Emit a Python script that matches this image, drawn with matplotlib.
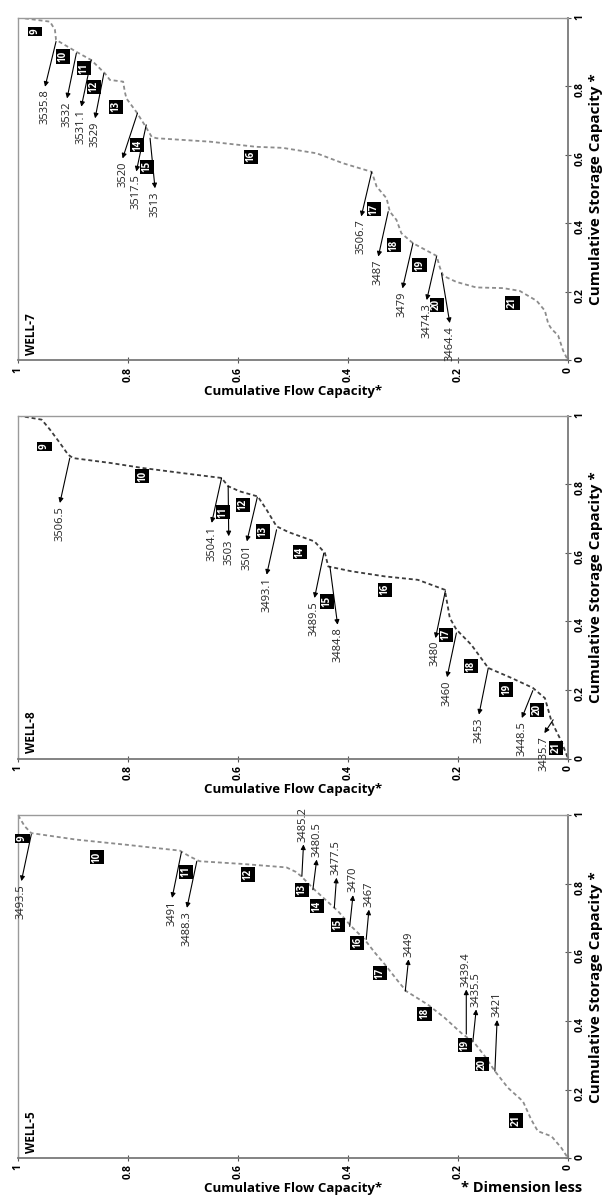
import matplotlib
matplotlib.use("Agg")
import matplotlib.pyplot as plt

plt.rcParams["font.family"] = ["Open Sans", "DejaVu Sans"]

# ========= Data (flow capacity, storage capacity) =========
well7_flow = [1.0, 0.942, 0.933, 0.931, 0.894, 0.867, 0.842, 0.833, 0.809, 0.806, 0.803, 0.785,
              0.770, 0.757, 0.748, 0.651, 0.567, 0.519, 0.457, 0.409, 0.357, 0.348, 0.330, 0.324,
              0.312, 0.303, 0.282, 0.239, 0.233, 0.227, 0.203, 0.167, 0.118, 0.088, 0.057, 0.042,
              0.036, 0.030, 0.018, 0.009, 0.0]
well7_storage = [1.0, 0.988, 0.964, 0.935, 0.900, 0.876, 0.837, 0.818, 0.813, 0.784, 0.764, 0.725,
                 0.687, 0.652, 0.648, 0.638, 0.623, 0.620, 0.604, 0.575, 0.550, 0.507, 0.473, 0.434,
                 0.410, 0.371, 0.342, 0.305, 0.271, 0.247, 0.229, 0.213, 0.211, 0.203, 0.174, 0.145,
                 0.107, 0.092, 0.073, 0.029, 0.0]
well7_zones = [9, 10, 11, 12, 13, 14, 15, 16, 17, 18, 19, 20, 21]
well7_zone_flow = [0.969, 0.918, 0.880, 0.862, 0.822, 0.783, 0.765, 0.577, 0.353, 0.317, 0.270, 0.239, 0.101]
well7_zone_storage = [0.959, 0.886, 0.852, 0.798, 0.740, 0.628, 0.565, 0.594, 0.441, 0.336, 0.278, 0.162, 0.168]
well7_depths = ["3535.8", "3532", "3531.1", "3529", "3520", "3517.5", "3513",
                "3506.7", "3487", "3479", "3474.3", "3464.4"]
well7_tail_flow = [0.931, 0.894, 0.867, 0.844, 0.783, 0.767, 0.760, 0.357, 0.327, 0.282, 0.239, 0.230]
well7_tail_storage = [0.930, 0.896, 0.876, 0.837, 0.721, 0.687, 0.648, 0.550, 0.434, 0.342, 0.303, 0.254]
well7_head_flow = [0.951, 0.911, 0.885, 0.860, 0.810, 0.785, 0.751, 0.376, 0.345, 0.301, 0.257, 0.215]
well7_head_storage = [0.798, 0.764, 0.740, 0.706, 0.589, 0.551, 0.502, 0.420, 0.303, 0.210, 0.176, 0.109]

well8_flow = [1.0, 0.957, 0.942, 0.924, 0.909, 0.900, 0.833, 0.773, 0.700, 0.630, 0.618, 0.597,
              0.564, 0.548, 0.530, 0.508, 0.461, 0.442, 0.436, 0.394, 0.333, 0.273, 0.224, 0.215,
              0.203, 0.176, 0.145, 0.103, 0.064, 0.042, 0.030, 0.012, 0.0]
well8_storage = [1.0, 0.988, 0.959, 0.920, 0.886, 0.876, 0.862, 0.847, 0.832, 0.818, 0.794, 0.779,
                 0.764, 0.725, 0.677, 0.660, 0.633, 0.599, 0.560, 0.546, 0.531, 0.521, 0.492, 0.410,
                 0.376, 0.332, 0.264, 0.235, 0.206, 0.176, 0.108, 0.050, 0.0]
well8_zones = [9, 10, 11, 12, 13, 14, 15, 16, 17, 18, 19, 20, 21]
well8_zone_flow = [0.952, 0.774, 0.627, 0.591, 0.555, 0.488, 0.439, 0.333, 0.222, 0.176, 0.112, 0.057, 0.022]
well8_zone_storage = [0.910, 0.823, 0.719, 0.740, 0.662, 0.602, 0.458, 0.492, 0.361, 0.269, 0.201, 0.142, 0.031]
well8_depths = ["3506.5", "3504.1", "3503", "3501", "3493.1", "3489.5", "3484.8",
                "3480", "3460", "3453", "3448.5", "3435.7"]
well8_tail_flow = [0.906, 0.630, 0.618, 0.565, 0.530, 0.444, 0.433, 0.223, 0.203, 0.145, 0.064, 0.027]
well8_tail_storage = [0.876, 0.818, 0.794, 0.762, 0.667, 0.599, 0.560, 0.489, 0.366, 0.264, 0.198, 0.113]
well8_head_flow = [0.924, 0.648, 0.617, 0.584, 0.548, 0.461, 0.419, 0.241, 0.220, 0.162, 0.084, 0.043]
well8_head_storage = [0.745, 0.687, 0.648, 0.633, 0.536, 0.468, 0.390, 0.351, 0.237, 0.128, 0.118, 0.074]

well5_flow = [1.0, 0.988, 0.976, 0.894, 0.803, 0.706, 0.688, 0.670, 0.591, 0.512, 0.495, 0.485,
              0.461, 0.442, 0.418, 0.394, 0.370, 0.351, 0.333, 0.309, 0.294, 0.255, 0.224, 0.194,
              0.170, 0.151, 0.133, 0.109, 0.082, 0.067, 0.055, 0.030, 0.012, 0.0]
well5_storage = [1.0, 0.968, 0.948, 0.929, 0.914, 0.897, 0.880, 0.866, 0.858, 0.848, 0.835, 0.822,
                 0.783, 0.755, 0.720, 0.676, 0.638, 0.599, 0.565, 0.516, 0.487, 0.448, 0.409, 0.365,
                 0.336, 0.297, 0.254, 0.205, 0.166, 0.113, 0.079, 0.064, 0.030, 0.0]
well5_zones = [9, 10, 11, 12, 13, 14, 15, 16, 17, 18, 19, 20, 21]
well5_zone_flow = [0.992, 0.856, 0.695, 0.582, 0.484, 0.457, 0.419, 0.383, 0.342, 0.261, 0.188, 0.157, 0.094]
well5_zone_storage = [0.932, 0.878, 0.835, 0.827, 0.783, 0.735, 0.681, 0.628, 0.540, 0.421, 0.330, 0.274, 0.110]
well5_depths = ["3493.5", "3491", "3488.3", "3485.2", "3480.5", "3477.5", "3470",
                "3467", "3449", "3439.4", "3435.5", "3421"]
well5_tail_flow = [0.976, 0.703, 0.675, 0.484, 0.464, 0.425, 0.397, 0.367, 0.296, 0.185, 0.173, 0.133]
well5_tail_storage = [0.944, 0.893, 0.866, 0.822, 0.783, 0.730, 0.676, 0.638, 0.487, 0.362, 0.341, 0.254]
well5_head_flow = [0.994, 0.720, 0.693, 0.481, 0.457, 0.421, 0.391, 0.362, 0.290, 0.185, 0.167, 0.129]
well5_head_storage = [0.808, 0.759, 0.730, 0.915, 0.871, 0.818, 0.767, 0.725, 0.580, 0.492, 0.434, 0.403]

ticks = [0, 0.2, 0.4, 0.6, 0.8, 1]
tick_labels = ["0", "0.2", "0.4", "0.6", "0.8", "1"]


def draw_panel(ax, name, flow, storage, zones, z_flow, z_storage,
               depths, t_flow, t_storage, h_flow, h_storage, line_color):
    ax.plot(flow, storage, color=line_color, lw=1.3, linestyle=(0, (2.2, 1.6)))

    for z, zf, zs in zip(zones, z_flow, z_storage):
        ax.text(zf, zs, str(z), rotation=90, color="white", fontsize=7,
                fontweight="bold", ha="center", va="center",
                bbox=dict(boxstyle="square,pad=0.16", fc="black", ec="none"))

    for d, tf, ts, hf, hs in zip(depths, t_flow, t_storage, h_flow, h_storage):
        ax.annotate("", xy=(hf, hs), xytext=(tf, ts),
                    arrowprops=dict(arrowstyle="-|>", color="black", lw=0.8,
                                    mutation_scale=7, shrinkA=0, shrinkB=0))
        down = hs < ts
        ax.annotate(d, xy=(hf, hs), xytext=(0, -2 if down else 2),
                    textcoords="offset points", rotation=90, fontsize=8,
                    color="#222222", ha="center", va="top" if down else "bottom")

    ax.text(0.013, 0.015, name, transform=ax.transAxes, rotation=90,
            fontsize=8.5, fontweight="bold", ha="left", va="bottom")

    ax.set_xlim(1, 0)
    ax.set_ylim(0, 1)
    ax.set_xticks(ticks, labels=tick_labels, rotation=90, fontsize=7.5, fontweight="bold")
    ax.yaxis.tick_right()
    ax.yaxis.set_label_position("right")
    ax.set_yticks(ticks, labels=tick_labels, rotation=90, fontsize=7.5, fontweight="bold")
    ax.tick_params(direction="inout", length=5, width=0.8, color="#555555", pad=2)
    ax.set_xlabel("Cumulative Flow Capacity*", fontsize=9.5, fontweight="bold", labelpad=2)
    ax.set_ylabel("Cumulative Storage Capacity *", fontsize=11, fontweight="bold",
                  rotation=90, labelpad=3)
    for side in ("left", "top"):
        ax.spines[side].set_color("#9a9a9a")
        ax.spines[side].set_linewidth(1.0)
    for side in ("right", "bottom"):
        ax.spines[side].set_color("#7a7a7a")
        ax.spines[side].set_linewidth(1.3)


fig = plt.figure(figsize=(6.03, 12), dpi=100)
left, width, height = 0.030, 0.912, 0.2858

ax7 = fig.add_axes([left, 0.6996, width, height])
draw_panel(ax7, "WELL-7", well7_flow, well7_storage, well7_zones, well7_zone_flow,
           well7_zone_storage, well7_depths, well7_tail_flow, well7_tail_storage,
           well7_head_flow, well7_head_storage, "#8c8c8c")

ax8 = fig.add_axes([left, 0.3679, width, height])
draw_panel(ax8, "WELL-8", well8_flow, well8_storage, well8_zones, well8_zone_flow,
           well8_zone_storage, well8_depths, well8_tail_flow, well8_tail_storage,
           well8_head_flow, well8_head_storage, "#3c3c3c")

ax5 = fig.add_axes([left, 0.0348, width, height])
draw_panel(ax5, "WELL-5", well5_flow, well5_storage, well5_zones, well5_zone_flow,
           well5_zone_storage, well5_depths, well5_tail_flow, well5_tail_storage,
           well5_head_flow, well5_head_storage, "#8c8c8c")

fig.text(0.965, 0.004, "* Dimension less", fontsize=10.5, fontweight="bold",
         ha="right", va="bottom")

fig.savefig("out.png", dpi=100)
plt.close(fig)
